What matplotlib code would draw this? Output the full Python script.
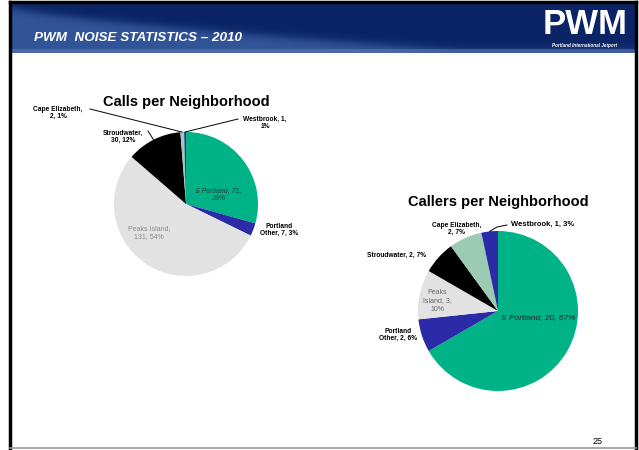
import numpy as np
import matplotlib
matplotlib.use("Agg")
import matplotlib.pyplot as plt

plt.rcParams['font.family'] = ['Liberation Sans', 'DejaVu Sans']

# data (clockwise from 12 o'clock)
neighborhoods = ["S Portland", "Portland Other", "Peaks Island", "Stroudwater",
                 "Cape Elizabeth", "Westbrook"]
calls = [71, 7, 131, 30, 2, 1]
calls_pct = [29, 3, 54, 12, 1, 1]
callers = [20, 2, 3, 2, 2, 1]
callers_pct = [67, 6, 10, 7, 7, 3]
colors = ["#00B386", "#2B2BA8", "#E2E2E2", "#000000", "#9CCBB3", "#2B2BA8"]

W, H = 639, 450
fig = plt.figure(figsize=(W / 100, H / 100), dpi=100)
bg = fig.add_axes([0, 0, 1, 1])
bg.set_xlim(0, W)
bg.set_ylim(H, 0)
bg.axis("off")

# header band
x0, x1, y0, y1 = 10, 635, 3, 53
xs = np.arange(x1 - x0)[None, :]
ys = np.arange(y1 - y0)[:, None] + y0
curve = 7 + 43 * (np.clip(xs / 450.0, 0, 1) ** 0.75)
t = 1 / (1 + np.exp(-(ys - curve) / 2.5))
dark = np.array([10, 36, 102]) / 255
light = np.array([50, 84, 152]) / 255
img = dark[None, None, :] * (1 - t[..., None]) + light[None, None, :] * t[..., None]
strip = (ys >= 49)[..., 0]
img[strip] = img[strip] * 0.6 + np.array([110, 140, 195]) / 255 * 0.4
bg.imshow(img, extent=(x0, x1, y1, y0), aspect="auto", zorder=1)
bg.set_xlim(0, W)
bg.set_ylim(H, 0)

bg.text(34, 41, "PWM  NOISE STATISTICS \u2013 2010", color="white", fontsize=9.7,
        fontweight="bold", fontstyle="italic", va="baseline", zorder=3)
bg.text(585, 25, "PWM", color="white", fontsize=25, fontweight="bold",
        ha="center", va="center", zorder=3)
bg.text(585, 46, "Portland International Jetport", color="white", fontsize=3.3,
        fontweight="bold", fontstyle="italic", ha="center", va="center", zorder=3)

# slide frame
bg.plot([10, 10], [2, 448], color="black", lw=2.5, zorder=4)
bg.plot([636, 636], [2, 448], color="black", lw=2.5, zorder=4)
bg.plot([10, 636], [2, 2], color="black", lw=2.5, zorder=4)
bg.plot([10, 636], [448, 448], color="#999999", lw=1.2, zorder=4)
bg.text(598, 441, "25", fontsize=6.5, ha="center", va="center")


def pie_axes(cx, cy, r):
    ax = fig.add_axes([(cx - r) / W, 1 - (cy + r) / H, 2 * r / W, 2 * r / H])
    ax.pie_center = (cx, cy, r)
    return ax


def draw_pie(ax, values):
    wedges, _ = ax.pie(values, colors=colors, startangle=90, counterclock=False,
                       radius=1, wedgeprops=dict(linewidth=0))
    ax.set_xlim(-1, 1)
    ax.set_ylim(-1, 1)
    return wedges


def edge_px(ax, wedge):
    cx, cy, r = ax.pie_center
    a = np.deg2rad((wedge.theta1 + wedge.theta2) / 2)
    return cx + r * np.cos(a), cy - r * np.sin(a)


ax1 = pie_axes(186, 204, 72)
w1 = draw_pie(ax1, calls)
ax2 = pie_axes(498, 311, 80)
w2 = draw_pie(ax2, callers)

# overlay for labels, above the pies
fg = fig.add_axes([0, 0, 1, 1])
fg.set_xlim(0, W)
fg.set_ylim(H, 0)
fg.axis("off")
fg.patch.set_alpha(0)

bold = dict(fontsize=4.8, fontweight="bold", ha="center", va="center",
            linespacing=1.1)

# Calls per Neighborhood
fg.text(186, 102, "Calls per Neighborhood", fontsize=10.5, fontweight="bold",
        ha="center", va="center")
fg.text(218, 195, "S Portland, %d,\n%d%%" % (calls[0], calls_pct[0]), fontsize=5,
        fontstyle="italic", color="#333333", ha="center", va="center", linespacing=1.2)
fg.text(279, 230, "Portland\nOther, %d, %d%%" % (calls[1], calls_pct[1]), **bold)
fg.text(149, 233, "Peaks Island,\n%d, %d%%" % (calls[2], calls_pct[2]), fontsize=5,
        color="#8a8a8a", ha="center", va="center", linespacing=1.2)
fg.text(123, 137, "Stroudwater,\n%d, %d%%" % (calls[3], calls_pct[3]), **bold)
fg.text(58, 113, "Cape Elizabeth,\n%d, %d%%" % (calls[4], calls_pct[4]), **bold)
fg.text(265, 123, "Westbrook, %d,\n%d%%" % (calls[5], calls_pct[5]), **bold)
for (lx, ly), i in [((148, 131), 3), ((90, 109), 4), ((238, 119), 5)]:
    ex, ey = edge_px(ax1, w1[i])
    fg.plot([lx, ex], [ly, ey], color="black", lw=0.7)

# Callers per Neighborhood
fg.text(498, 202, "Callers per Neighborhood", fontsize=10.5, fontweight="bold",
        ha="center", va="center")
fg.text(538, 318, "S Portland, %d, %d%%" % (callers[0], callers_pct[0]), fontsize=6,
        fontstyle="italic", color="#222222", ha="center", va="center")
fg.text(398, 335, "Portland\nOther, %d, %d%%" % (callers[1], callers_pct[1]), **bold)
fg.text(437, 301, "Peaks\nIsland, %d,\n%d%%" % (callers[2], callers_pct[2]), fontsize=5,
        color="#666666", ha="center", va="center", linespacing=1.25)
fg.text(397, 255, "Stroudwater, %d, %d%%" % (callers[3], callers_pct[3]), **bold)
fg.text(457, 229, "Cape Elizabeth,\n%d, %d%%" % (callers[4], callers_pct[4]), **bold)
fg.text(543, 224, "Westbrook, %d, %d%%" % (callers[5], callers_pct[5]),
        fontsize=5.5, fontweight="bold", ha="center", va="center")
ex, ey = edge_px(ax2, w2[5])
fg.plot([507, 497, ex], [225, 227, ey], color="black", lw=0.7)

fig.savefig("out.png", dpi=100)
